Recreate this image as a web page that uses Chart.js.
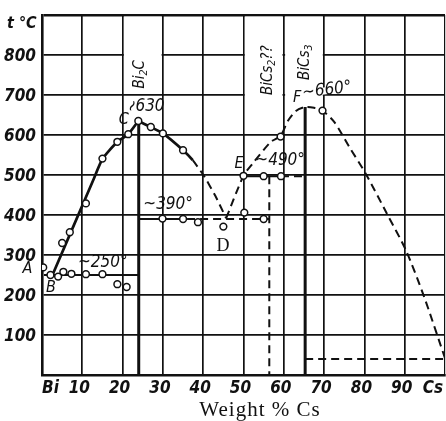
<!DOCTYPE html>
<html>
<head>
<meta charset="utf-8">
<script src="https://cdn.jsdelivr.net/npm/chart.js@4"></script>
<style>
  html, body { margin: 0; padding: 0; background: #fff; }
  #wrap { width: 446px; height: 421px; }
</style>
</head>
<body>
<div id="wrap"><canvas id="c" width="446" height="421"></canvas></div>
<script>
// axes
const xTickValues = [0, 10, 20, 30, 40, 50, 60, 70, 80, 90, 100];
const xTickLabels = ['Bi', '10', '20', '30', '40', '50', '60', '70', '80', '90', 'Cs'];
const yTickValues = [100, 200, 300, 400, 500, 600, 700, 800];
const yTickLabels = ['100', '200', '300', '400', '500', '600', '700', '800'];

// measured points (open circles), weight % Cs / t °C
const obsX = [0.3, 2.1, 4.0, 5.3, 7.3, 10.9, 15, 18.7, 21, 5.0, 6.9, 10.9, 15.0, 18.7, 21.4, 23.9,
              27, 30, 35, 29.9, 35, 38.7, 45, 50.2, 55, 50, 55, 59.3, 59.2, 69.6];
const obsT = [269, 250, 246, 258, 253, 252, 252, 227, 220, 330, 357, 429, 541, 583, 602, 635,
              620, 604, 562, 391, 390, 382, 371, 406, 390, 498, 497, 497, 596, 661];

// liquidus B -> C
const liqBCX = [2.6, 12.7, 15, 18.7, 21.4, 23.9];
const liqBCT = [250, 487, 540, 583, 602, 635];
// liquidus C -> D (dashed past 37 %)
const liqCDX = [23.9, 27, 30, 35, 37.4, 40.3, 43, 45.7];
const liqCDT = [635, 620, 604, 562, 537, 496, 448, 392];
// liquidus D -> E -> F -> Cs (dashed)
const liqDFX = [45.7, 50, 52.3, 56.8, 59.2, 61, 63, 65.3, 67.5, 69.6, 72.5, 76.2, 80.4, 85.5, 90.3, 94.8, 100];
const liqDFT = [392, 498, 529, 583, 598, 635, 660, 670, 668, 661, 633, 571, 502, 405, 312, 196, 42];

// horizontals and compound lines
const eut250X = [0.5, 24];     const eut250T = [250, 250];
const eut390X = [24, 36, 56.4]; const eut390T = [390, 390, 390];
const per490X = [50, 59.3, 65.3]; const per490T = [497, 497, 497];
const bi2cX = [24, 24];        const bi2cT = [0, 635];
const bics2X = [56.4, 56.4];   const bics2T = [497, 0];
const bics3X = [65.3, 65.3];   const bics3T = [0, 670];
const lowX = [65.3, 100];      const lowT = [40, 40];

const INK = '#111';
const DASH = [8, 5];

function pts(xs, ts) {
    return xs.map((x, i) => ({ x: x, y: ts[i] }));
}

function line(xs, ts, width, dashFrom, tension) {
    return {
        data: pts(xs, ts),
        showLine: true,
        borderColor: INK,
        borderWidth: width,
        pointRadius: 0,
        tension: tension || 0,
        borderDash: dashFrom === 0 ? DASH : [],
        segment: dashFrom > 0 ? {
            borderDash: c => c.p0.parsed.x >= dashFrom ? DASH : [],
            borderWidth: c => c.p0.parsed.x >= dashFrom ? 2 : width
        } : {}
    };
}

// label boxes where the grid is interrupted (data coords)
const blankBoxes = [[20, 30, 700, 900], [50, 60, 600, 900], [60, 70, 600, 900]];

const NARROW = '"Liberation Sans Narrow", "DejaVu Sans Condensed", sans-serif';

// draws text made of [string, isSubscript] parts, centered at x,y
function rich(ctx, parts, x, y, size, style, rot) {
    ctx.save();
    ctx.translate(x, y);
    ctx.rotate(rot || 0);
    ctx.textBaseline = 'middle';
    ctx.textAlign = 'left';
    let w = 0;
    parts.forEach(p => {
        ctx.font = style + ' ' + (p[1] ? size * 0.7 : size) + 'px ' + NARROW;
        w += ctx.measureText(p[0]).width;
    });
    let cx = -w / 2;
    parts.forEach(p => {
        ctx.font = style + ' ' + (p[1] ? size * 0.7 : size) + 'px ' + NARROW;
        ctx.fillText(p[0], cx, p[1] ? size * 0.3 : 0);
        cx += ctx.measureText(p[0]).width;
    });
    ctx.restore();
}

const decor = {
    id: 'decor',
    beforeDatasetsDraw(chart) {
        const ctx = chart.ctx;
        const sx = chart.scales.x, sy = chart.scales.y;
        ctx.save();
        ctx.fillStyle = '#fff';
        blankBoxes.forEach(b => {
            const x0 = sx.getPixelForValue(b[0]) + 1.3, x1 = sx.getPixelForValue(b[1]) - 1.3;
            const y0 = sy.getPixelForValue(b[3]) + 1.6, y1 = sy.getPixelForValue(b[2]) - 1.3;
            ctx.fillRect(x0, y0, x1 - x0, y1 - y0);
        });
        ctx.restore();
    },
    afterDatasetsDraw(chart) {
        const ctx = chart.ctx;
        const sx = chart.scales.x, sy = chart.scales.y;
        const X = v => sx.getPixelForValue(v), Y = v => sy.getPixelForValue(v);
        ctx.save();
        ctx.fillStyle = INK;

        // tick labels
        ctx.font = 'italic bold 17px ' + NARROW;
        ctx.textBaseline = 'middle';
        xTickLabels.forEach((lab, i) => {
            const v = xTickValues[i];
            const last = i === xTickLabels.length - 1;
            ctx.textAlign = i === 0 ? 'left' : (last ? 'right' : 'center');
            const off = i === 0 ? 0 : (last ? -2 : -3);
            ctx.fillText(lab, X(v) + off, chart.chartArea.bottom + 14);
        });
        ctx.textAlign = 'right';
        yTickLabels.forEach((lab, i) => {
            ctx.fillText(lab, chart.chartArea.left - 6, Y(yTickValues[i]) + 1.5);
        });

        // axis titles
        ctx.font = 'italic bold 16px ' + NARROW;
        ctx.textAlign = 'center';
        ctx.fillText('t \u00b0C', X(-5), Y(877));
        ctx.font = '21px "Liberation Serif", serif';
        ctx.letterSpacing = '1px';
        ctx.fillText('Weight % Cs', X(54.1), Y(-88));
        ctx.letterSpacing = '0px';

        // point names and temperatures
        ctx.font = 'italic 16px ' + NARROW;
        ctx.fillText('A', X(-3.6), Y(265));
        ctx.fillText('B', X(2.2), Y(218));
        ctx.fillText('C', X(20.3), Y(638));
        ctx.fillText('E', X(48.9), Y(527));
        ctx.fillText('F', X(63.3), Y(692));
        ctx.font = 'italic 17px ' + NARROW;
        ctx.fillText('630', X(26.8), Y(672));
        ctx.save();
        ctx.translate(X(22.6), Y(672));
        ctx.rotate(-1.1);
        ctx.fillText('~', 0, 0);
        ctx.restore();
        ctx.fillText('~250\u00b0', X(15.1), Y(282));
        ctx.fillText('~390\u00b0', X(31.3), Y(427));
        ctx.fillText('~490\u00b0', X(59.1), Y(537));
        // F label sits on the 700 line
        ctx.save();
        ctx.translate(X(70.7), Y(712));
        ctx.rotate(-0.12);
        ctx.fillStyle = '#fff';
        ctx.fillRect(-22, -3, 44, 7);
        ctx.fillStyle = INK;
        ctx.fillText('~660\u00b0', 0, 0);
        ctx.restore();

        ctx.font = '18px "Liberation Serif", serif';
        ctx.fillText('D', X(44.9), Y(322));

        // compound labels
        rich(ctx, [['Bi', 0], ['2', 1], ['C', 0]], X(24.3), Y(752), 15, 'italic', -Math.PI / 2);
        rich(ctx, [['BiCs', 0], ['2', 1], ['??', 0]], X(56.1), Y(762), 15, 'italic', -Math.PI / 2);
        rich(ctx, [['BiCs', 0], ['3', 1]], X(65.3), Y(782), 15, 'italic', -Math.PI / 2);
        ctx.restore();
    }
};

const obs = {
    data: pts(obsX, obsT),
    showLine: false,
    pointRadius: 3.4,
    pointBackgroundColor: '#fff',
    pointBorderColor: INK,
    pointBorderWidth: 1.5
};

new Chart(document.getElementById('c'), {
    type: 'scatter',
    data: {
        datasets: [
            obs,
            line(liqBCX, liqBCT, 2.7, -1, 0.2),
            line(liqCDX, liqCDT, 2.7, 37.4, 0.2),
            line(liqDFX, liqDFT, 2, 0, 0.25),
            line(eut250X, eut250T, 2.2, -1),
            line(eut390X, eut390T, 2.2, 36),
            line(per490X, per490T, 2, 59.3),
            line(bi2cX, bi2cT, 3, -1),
            line(bics2X, bics2T, 2, 0),
            line(bics3X, bics3T, 3, -1),
            line(lowX, lowT, 2, 0)
        ]
    },
    options: {
        responsive: false,
        animation: false,
        layout: { autoPadding: false, padding: { top: 15, right: 1, left: 0, bottom: 0 } },
        plugins: { legend: { display: false }, tooltip: { enabled: false } },
        scales: {
            x: {
                type: 'linear', min: 0, max: 100,
                afterBuildTicks: s => { s.ticks = xTickValues.map(v => ({ value: v })); },
                afterFit: s => { s.height = 46; s.paddingLeft = 0; s.paddingRight = 0; },
                ticks: { display: false },
                grid: { color: INK, lineWidth: c => c.tick && c.tick.value === 100 ? 1.2 : 1.7, drawTicks: false },
                border: { color: INK, width: 2.6 }
            },
            y: {
                type: 'linear', min: 0, max: 900,
                afterBuildTicks: s => { s.ticks = [0].concat(yTickValues, [900]).map(v => ({ value: v })); },
                afterFit: s => { s.width = 42; s.paddingTop = 0; s.paddingBottom = 0; },
                ticks: { display: false },
                grid: { color: INK, lineWidth: c => c.tick && c.tick.value === 900 ? 2.6 : 1.7, drawTicks: false },
                border: { color: INK, width: 2.6 }
            }
        }
    },
    plugins: [decor]
});
</script>
</body>
</html>
